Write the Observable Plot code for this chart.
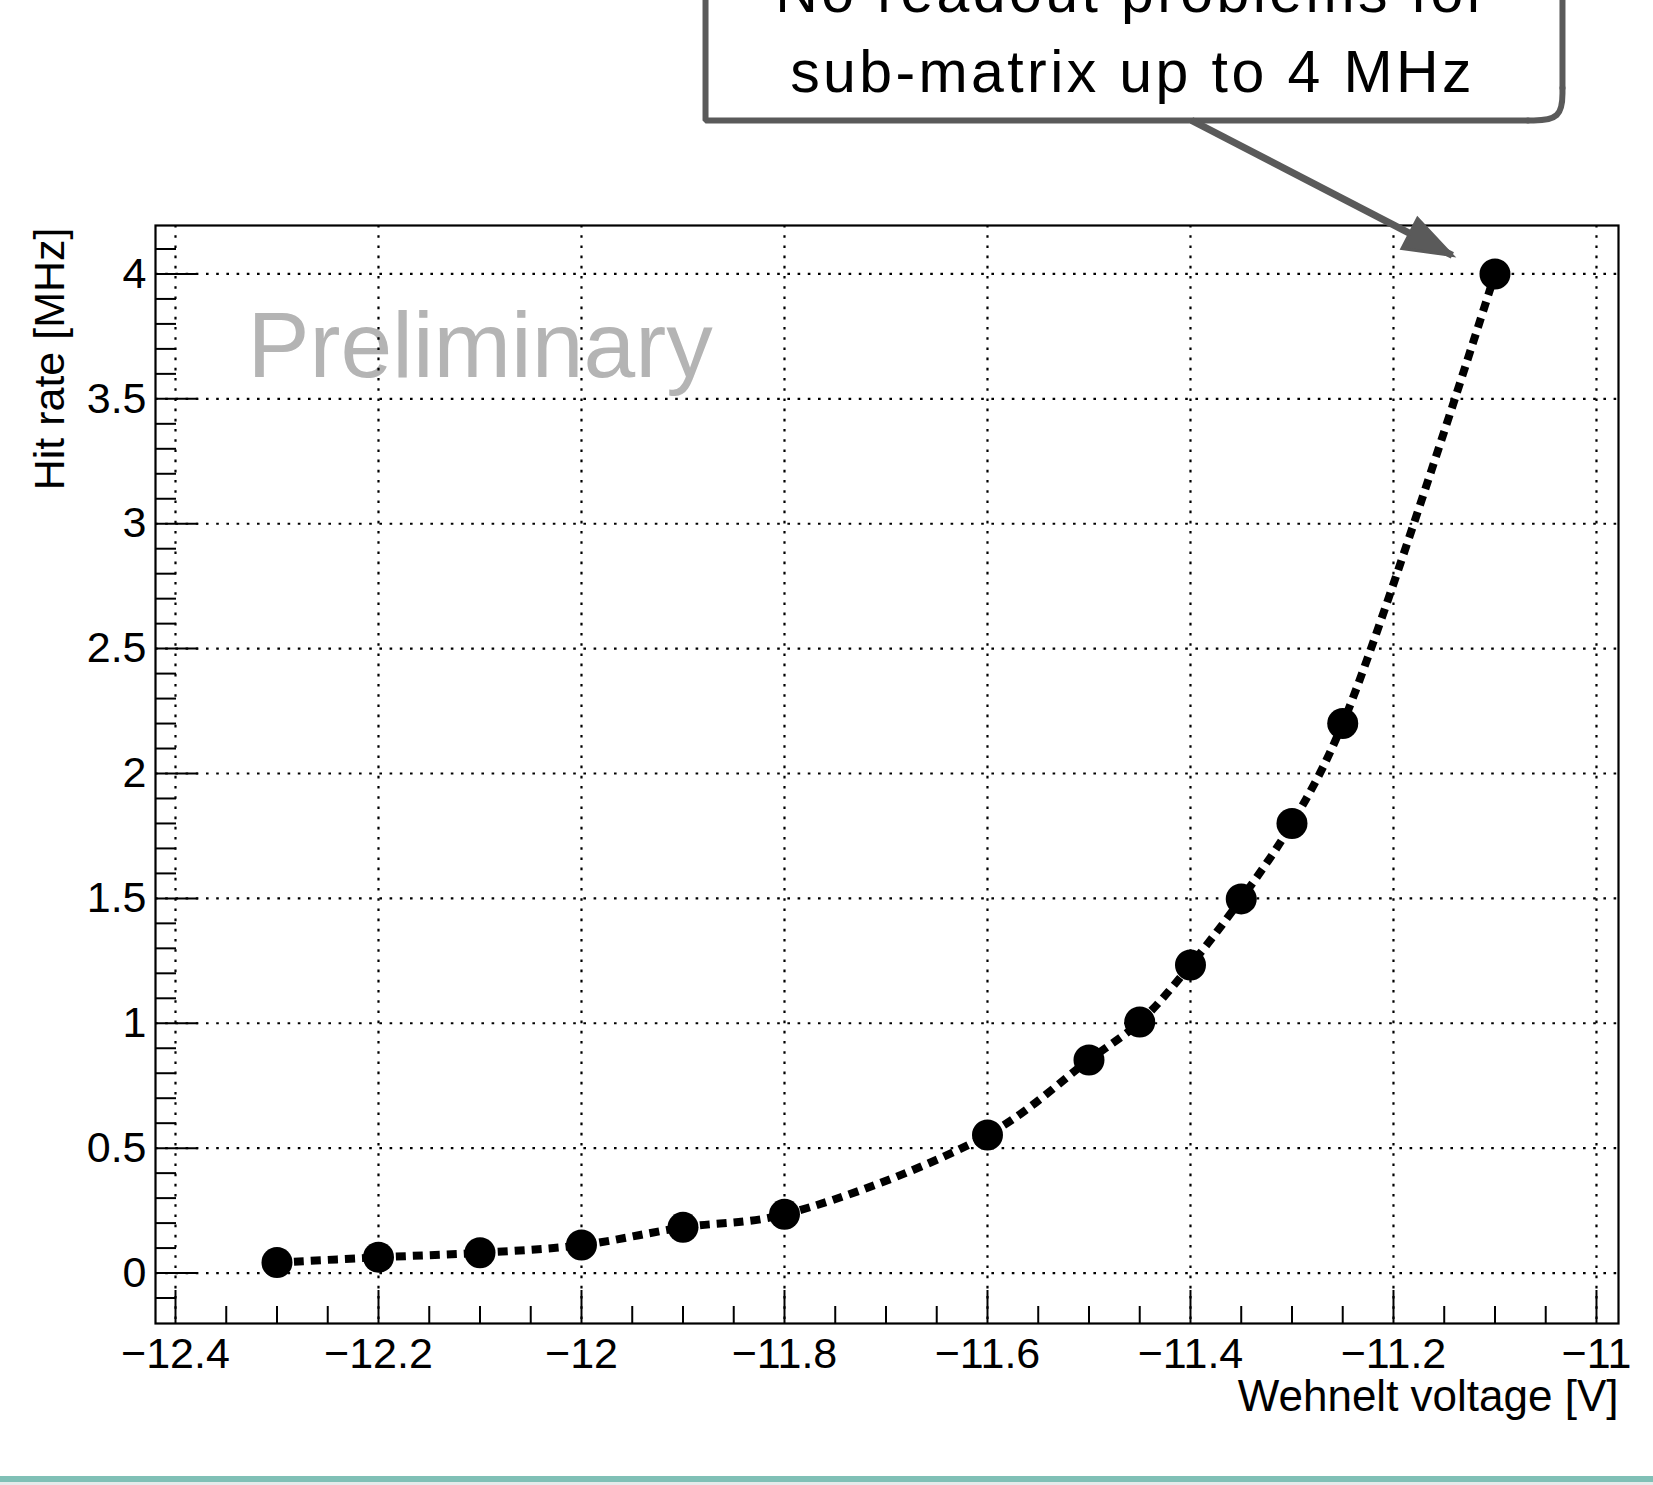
<!DOCTYPE html>
<html>
<head>
<meta charset="utf-8">
<script src="https://cdn.jsdelivr.net/npm/d3@7"></script>
<script src="https://cdn.jsdelivr.net/npm/@observablehq/plot@0.6"></script>
<style>
  html, body { margin: 0; padding: 0; background: #fff; }
  #wrap { position: relative; width: 1653px; height: 1485px; overflow: hidden; }
  #wrap svg { position: absolute; left: 0; top: 0; overflow: visible; }
  g[font-size="59"] text { letter-spacing: 3.4px; }
  #band { position: absolute; left: 0; top: 1476px; width: 1653px; height: 6px; background: rgb(128,192,182); }
  #band2 { position: absolute; left: 0; top: 1482px; width: 1653px; height: 3px; background: #e6eaea; }
</style>
</head>
<body>
<div id="wrap"><div id="band"></div><div id="band2"></div></div>
<script>
// ---- data ----
const voltage = [-12.3, -12.2, -12.1, -12.0, -11.9, -11.8, -11.6, -11.5, -11.45, -11.4, -11.35, -11.3, -11.25, -11.1];
const hitRate = [0.042, 0.063, 0.081, 0.112, 0.183, 0.235, 0.553, 0.853, 1.005, 1.233, 1.498, 1.80, 2.20, 4.0];

const xMajorTicks = [-12.4, -12.2, -12.0, -11.8, -11.6, -11.4, -11.2, -11.0];
const xMinorTicks = d3.range(-12.35, -10.99, 0.05).map(v => +v.toFixed(2)).filter(v => !xMajorTicks.some(m => Math.abs(m - v) < 1e-6));
const yMajorTicks = [0, 0.5, 1, 1.5, 2, 2.5, 3, 3.5, 4];
const yMinorTicks = d3.range(-0.1, 4.15, 0.1).map(v => +v.toFixed(1)).filter(v => !yMajorTicks.some(m => Math.abs(m - v) < 1e-6));

const xLabel = "Wehnelt voltage [V]";
const yLabel = "Hit rate [MHz]";
const watermark = [{x: -12.329, y: 3.5856, text: "Preliminary"}];
const annotationText = [{x: -11.4571, y: 4.7267, text: "No readout problems for\nsub-matrix up to 4 MHz"}];
// callout box (data coordinates), bottom-right corner rounded
const boxX1 = -11.8778, boxX2 = -11.0335, boxBottom = 4.6146, boxTop = 5.30, cornerDx = 0.034, cornerDy = 0.13;
const boxEdges = [
  {x: boxX1, y: boxTop, s: "a"}, {x: boxX1, y: boxBottom, s: "a"}, {x: boxX2 - cornerDx, y: boxBottom, s: "a"},
  {x: boxX2, y: boxBottom + cornerDy, s: "b"}, {x: boxX2, y: boxTop, s: "b"}
];
const boxCorner = [{x: boxX2 - cornerDx, y: boxBottom}, {x: boxX2, y: boxBottom}, {x: boxX2, y: boxBottom + cornerDy}];
const calloutArrow = [{x1: -11.399, y1: 4.615, x2: -11.142, y2: 4.074}];

const table = voltage.map((v, i) => ({v, r: hitRate[i]}));

const W = 1653, H = 1485, mL = 155, mR = 35, mT = 225, mB = 162;
const frameW = W - mL - mR, frameH = H - mT - mB;
const xDomain = [-12.4197, -10.9783], yDomain = [-0.202, 4.194];
const fmt = d => d3.format("~g")(d);
const grey = "#5a5a5a";

// direction of the callout arrow in screen space (same mapping as the plot's scales)
const xs = d3.scaleLinear(xDomain, [mL, W - mR]);
const ys = d3.scaleLinear(yDomain, [H - mB, mT]);
const arrowDir = calloutArrow.map(d => {
  const px = xs(d.x2) - xs(d.x1), py = ys(d.y2) - ys(d.y1);
  return {...d, angle: Math.atan2(px, -py) * 180 / Math.PI};
});
const headShape = {
  draw(context, l, r) {
    context.moveTo(0, -l);
    context.lineTo(-r, 0);
    context.lineTo(r, 0);
    context.closePath();
  }
};
let headMarks;
try {
  headMarks = [Plot.vector(arrowDir, {x: "x2", y: "y2", rotate: "angle", length: 48, r: 17, anchor: "end", shape: headShape, fill: grey, stroke: grey, strokeWidth: 3, strokeLinejoin: "miter"})];
} catch (e) {
  headMarks = [10.5, 9, 7.5, 6, 4.5, 3, 1.5].map(h => Plot.arrow(calloutArrow, {x1: "x1", y1: "y1", x2: "x2", y2: "y2", stroke: grey, strokeWidth: 7, headLength: h, headAngle: 40}));
}

const chart = Plot.plot({
  width: W, height: H,
  marginLeft: mL, marginRight: mR, marginTop: mT, marginBottom: mB,
  x: {domain: xDomain, axis: null},
  y: {domain: yDomain, axis: null},
  style: {fontFamily: "'Liberation Sans', Arial, Helvetica, sans-serif", fontSize: "43px", background: "transparent", overflow: "visible", color: "black"},
  marks: [
    Plot.text(watermark, {x: "x", y: "y", text: "text", textAnchor: "start", lineAnchor: "bottom", fontSize: 93, fill: "#b4b4b4"}),
    Plot.ruleX(xMajorTicks, {x: d => d, stroke: "black", strokeWidth: 2.2, strokeDasharray: "2.6,7.6"}),
    Plot.ruleY(yMajorTicks, {y: d => d, stroke: "black", strokeWidth: 2.2, strokeDasharray: "2.6,7.6"}),
    Plot.tickX(xMajorTicks, {x: d => d, insetTop: frameH - 33, stroke: "black", strokeWidth: 2}),
    Plot.tickX(xMinorTicks, {x: d => d, insetTop: frameH - 17, stroke: "black", strokeWidth: 2}),
    Plot.tickY(yMajorTicks, {y: d => d, insetRight: frameW - 43, stroke: "black", strokeWidth: 2}),
    Plot.tickY(yMinorTicks, {y: d => d, insetRight: frameW - 21, stroke: "black", strokeWidth: 2}),
    Plot.frame({stroke: "black", strokeWidth: 2.2}),
    Plot.text(xMajorTicks, {x: d => d, text: d => fmt(d), frameAnchor: "bottom", lineAnchor: "top", dy: 14, fill: "black"}),
    Plot.text(yMajorTicks, {y: d => d, text: d => fmt(d), frameAnchor: "left", textAnchor: "end", dx: -9, fill: "black"}),
    Plot.text([xLabel], {frameAnchor: "bottom-right", textAnchor: "end", lineAnchor: "bottom", dy: 87, fontSize: 44, fill: "black"}),
    Plot.text([yLabel], {frameAnchor: "top-left", rotate: -90, textAnchor: "end", lineAnchor: "bottom", dx: -92, dy: 2, fill: "black"}),
    Plot.line(table, {x: "v", y: "r", curve: "catmull-rom", stroke: "black", strokeWidth: 8, strokeDasharray: "10,7", strokeLinecap: "butt", strokeLinejoin: "miter"}),
    Plot.dot(table, {x: "v", y: "r", r: 15.5, fill: "black", stroke: "none"}),
    Plot.line(boxEdges, {x: "x", y: "y", z: "s", stroke: grey, strokeWidth: 6, strokeLinecap: "round", strokeLinejoin: "miter"}),
    Plot.line(boxCorner, {x: "x", y: "y", curve: "basis", stroke: grey, strokeWidth: 6, strokeLinecap: "round"}),
    Plot.text(annotationText, {x: "x", y: "y", text: "text", lineAnchor: "bottom", lineHeight: 1.356, fontSize: 59, fill: "black"}),
    Plot.link(calloutArrow, {x1: "x1", y1: "y1", x2: "x2", y2: "y2", stroke: grey, strokeWidth: 7}),
    ...headMarks
  ]
});
document.getElementById("wrap").appendChild(chart);
</script>
</body>
</html>
